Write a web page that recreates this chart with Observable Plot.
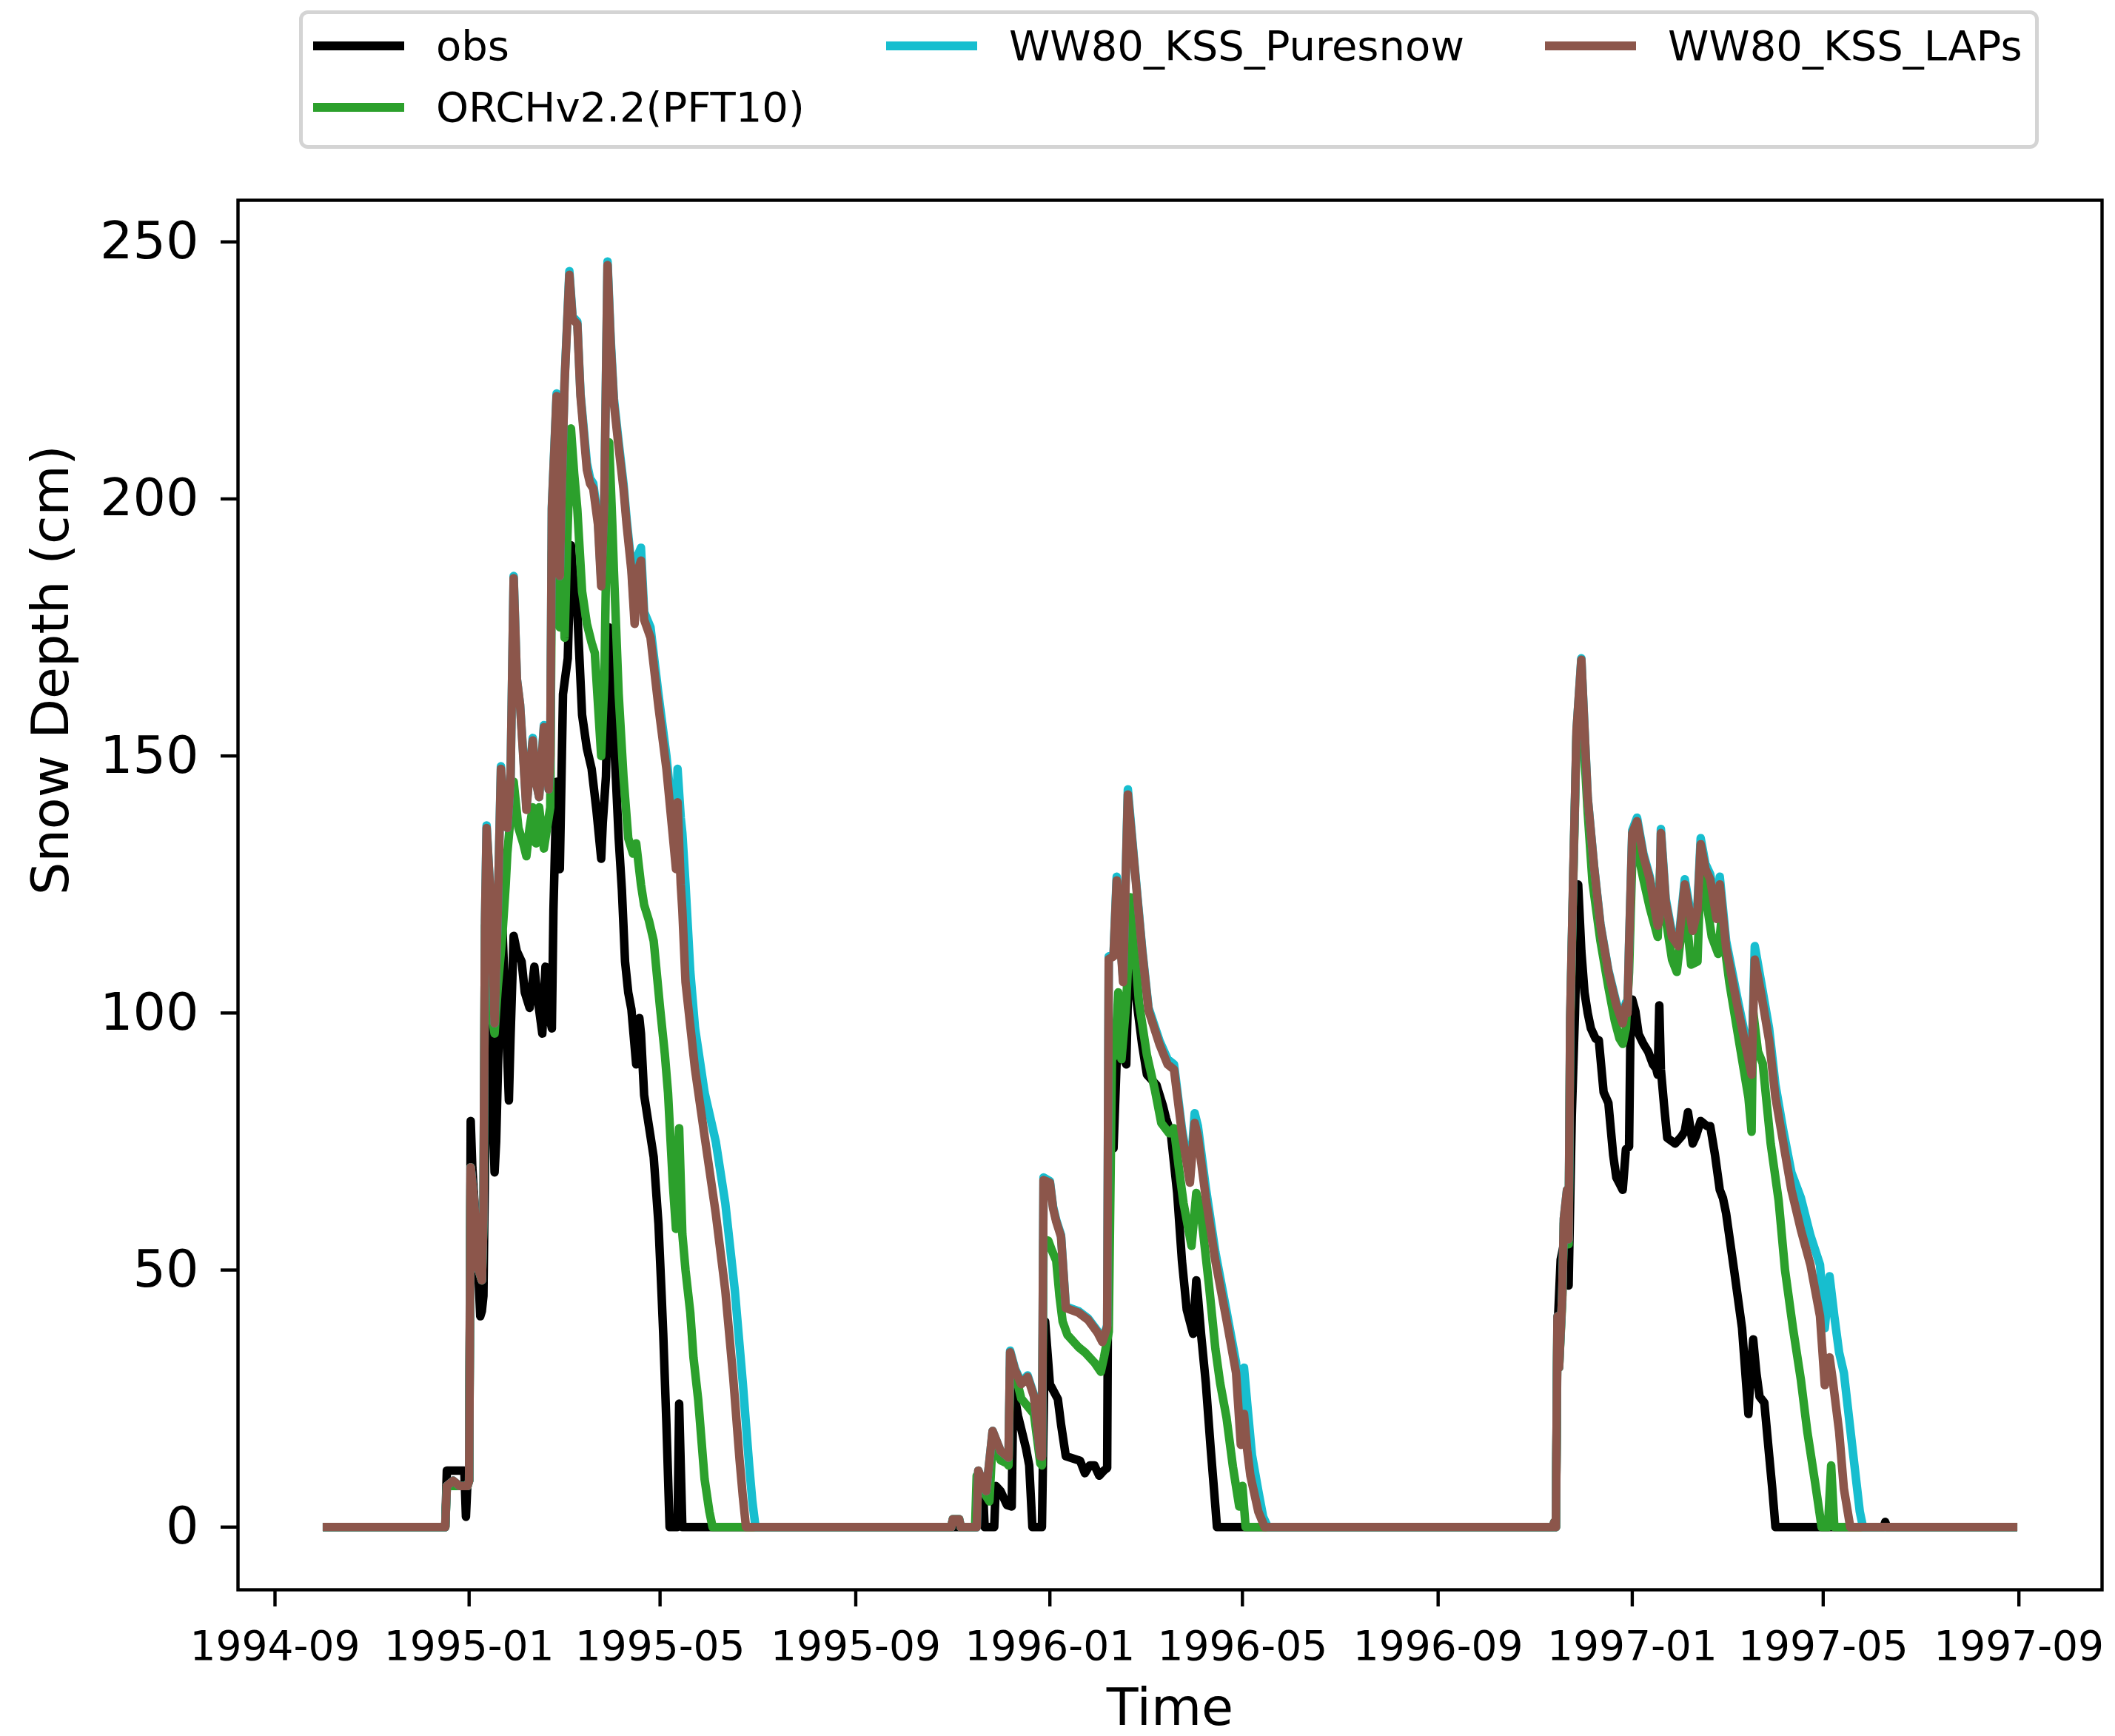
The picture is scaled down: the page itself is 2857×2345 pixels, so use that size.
<!DOCTYPE html>
<html>
<head>
<meta charset="utf-8">
<script src="https://cdn.jsdelivr.net/npm/d3@7"></script>
<script src="https://cdn.jsdelivr.net/npm/@observablehq/plot@0.6"></script>
<style>
  html, body { margin: 0; padding: 0; background: #fff; }
  body { width: 2857px; height: 2345px; overflow: hidden; font-family: "DejaVu Sans", sans-serif; }
  #legend { position: relative; width: 2857px; height: 210px; }
  #legend .box { position: absolute; left: 404px; top: 14px; width: 2350px; height: 187px;
                 box-sizing: border-box; border: 5px solid #d4d4d4; border-radius: 12px; background: #fff; }
  #legend .item { position: absolute; display: flex; align-items: center; height: 64px;
                  font-size: 56px; line-height: 64px; color: #000; white-space: nowrap; }
  #legend .swatch { width: 123px; height: 12px; margin-right: 43px; flex: none; }
  #chart svg { display: block; }
</style>
</head>
<body>
<div id="legend"></div>
<div id="chart"></div>
<script>
// Daily snow depth (cm) at the site, 1994-10 to 1997-08.
// Each entry is [days since 1994-09-01, snow depth in cm].
const recordStart = [1994, 8, 1];

const seriesNames = ["obs", "ORCHv2.2(PFT10)", "WW80_KSS_Puresnow", "WW80_KSS_LAPs"];
const seriesColors = ["#000000", "#2ca02c", "#17becf", "#8c564b"];

const obs = [
  [30,0],[107,0],[108,11],[119,11],[120,2],[121,9],[122,9],[123,79],[124,70],[127,55],[129,41],[130,42],[131,45],
  [133,98],[135,103],[136,90],[138,69],[139,75],[141,100],[143,116],[145,100],[147,83],[148,95],[150,115],[152,112],
  [155,110],[157,104],[160,101],[163,109],[165,103],[168,96],[170,109],[172,100],[174,97],[175,120],[177,145],[179,128],
  [181,162],[184,169],[186,191],[188,182],[190,178],[193,158],[196,151.5],[199,147.5],[202,139.5],[205,130],[206,137],
  [208,146],[210,175],[211,170],[213,154],[216,134],[218,124],[220,110],[222,104],[224,100.7],[227,90],[229,99],[230,96],
  [232,84],[235,78],[238,72],[241,59],[243,45],[244,37.6],[246,20],[248,0],[253,0],[254,24],[256,0],
  [441,0],[442,7],[445,7],[446,0],[452,0],[453,8],[456,7],[460,4.3],[463,4],[464,27],[467,21.6],[472,15.3],[474,12],
  [476,0],[482,0],[484,40],[487,27.8],[492,24.9],[494,20],[497,13.8],[506,12.9],[509,10.5],[512,12],[515,12],[518,10],
  [521,11],[523,11.5],[524,76.6],[527,73.7],[529,91],[532,92],[535,90],[537,115.7],[540,106],[545,93.8],
  [548,88],[554,86],[558,82],[560,79.5],[563,76.6],[567,65],[570,51.8],[573,42.3],[577,37.6],[579,48],[580,45],
  [582,37.6],[585,28],[588,15.5],[591,4],[592,0],
  [805,0],[806,38],[808,52],[810,55],[811,62],[813,47],[815,80],[817,100],[819,125],[821,112],[823,104],[825,100],
  [827,97],[830,95],[832,94.7],[835,84.6],[838,82.5],[841,72.4],[843,68],[845,66.8],[847,65.6],[849,73.5],[851,74],
  [852,100],[853,102.6],[855,100.3],[857,95.9],[860,94],[863,92.5],[866,90],[868,89.2],[869,88],[870,101.5],[871,89],
  [873,82],[875,75.7],[880,74.6],[884,76],[886,77],[888,80.7],[891,74.6],[893,76],[896,79],[900,78],[902,78],
  [905,72.4],[908,65.6],[910,64],[912,61],[917,50],[922,38.7],[926,22],[927,28],[929,36.5],[931,30],[933,25.4],
  [936,24.2],[939,14.1],[941,7.5],[943,0],[1011,0],[1012,1],[1013,0],[1095,0]
];

const orch = [
  [30,0],[107,0],[108,8],[121,8],[122,9],[123,70],[125,62],[128,50],[130,48],[131,60],[132,117],[134,112],[136,100],
  [138,96],[140,105],[143,115.6],[145,125],[146,131],[148,138],[150,145],[153,136],[156,133],[158,130.5],[160,136],
  [162,140],[164,133],[166,140],[169,132],[172,138],[173,140],[174,189.6],[176,198],[177,185],[179,175],[181,190],
  [182,173],[184,195],[186,213.7],[188,205],[190,198],[193,182],[196,175.7],[199,172],[201,170],[203,160],[205,150],
  [207,165],[209,205],[210,211],[212,195],[213,186],[216,162],[219,146],[222,134],[225,131],[227,133],[230,125],
  [232,121],[235,118],[238,114],[242,101],[245,92],[247,84.5],[250,67],[252,58],[254,77.6],[256,57],[258,50],
  [261,41.7],[263,33],[266,24.7],[270,9.3],[273,3],[275,0],
  [425,0],[426,1.5],[430,1.5],[431,0],[440,0],[441,10],[445,7],[449,5],[451,17],[456,13],[460,12.4],[461,12],[462,31],
  [465,30],[469,25],[473,23.5],[477,22],[481,12.4],[482,12],[483,56],[486,55.7],[488,54],[491,51.8],[493,45],[495,40],
  [498,37.4],[505,35],[509,34],[515,32],[519,30.2],[521,33],[524,38],[526,91],[528,91.9],[530,104],[532,91],
  [535,102],[538,122.5],[541,110],[543,102],[548,91.8],[553,85],[557,78.6],[562,76.6],[565,77.6],[568,70],[571,63],
  [574,58],[576,54.7],[579,65],[582,61],[587,47],[591,34.7],[594,28],[598,21.3],[602,11.8],[606,4],[608,8],[610,0],
  [803,0],[804,1],[805,0],[806,40],[807,31],[809,44],[810,59],[812,64],[813,55],[814,97],[816,127],[818,154],
  [821,166],[823,150],[825,139],[828,125.5],[833,114],[838,105],[842,98.5],[845,95],[847,94],[849,97],[851,108],
  [853,130],[854,134],[856,132],[860,126],[864,120.5],[869,114.8],[871,131.7],[873,120.5],[878,110.4],[881,108],
  [886,121.6],[890,109.4],[894,110],[896,128.4],[898,125],[903,114.8],[907,111.5],[909,118],[914,106],[920,94.7],
  [926,83.6],[928,76.9],[929,100.3],[932,92.5],[935,90.2],[940,74.6],[945,63.5],[949,50],[954,38.7],[959,28.6],
  [963,18.6],[968,8.5],[972,0],[976,0],[978,12],[980,0],[1095,0]
];

const puresnow = [
  [30,0],[107,0],[108,8],[112,9],[116,8],[121,8],[122,9],[123,70],[125,64],[128,50],[130,48],[131,60],[132,118],
  [133,136.5],[135,125],[137,110],[138,98],[140,120],[142,148],[144,140],[146,136],[148,145],[150,185],[152,165],
  [154,160],[156,150.5],[158,140],[160,147],[162,153.5],[164,145],[166,142],[169,156],[172,143.5],[173,150],
  [174,198.5],[177,220.5],[179,185],[180,200],[182,223],[185,244.3],[187,235.5],[190,234.5],[192,220.5],[196,207],
  [198,204],[200,203],[203,196],[205,184],[207,201],[209,246.2],[211,231],[213,219.5],[216,211],[219,203],[221,196],
  [224,187],[226,177],[228,189],[230,190.5],[232,178],[236,175],[241,162],[246,150],[250,137.5],[252,131],
  [253,147.5],[255,138],[256,135],[258,125],[261,108],[264,97],[270,84.5],[277,75],[283,63],[289,46],[294,28],
  [298,12],[300,5],[302,0],
  [425,0],[426,1.5],[430,1.5],[431,0],[441,0],[442,11],[447,7],[451,18.7],[456,14.8],[460,13.8],[461,13.5],
  [462,34.3],[465,30.9],[469,28.1],[473,29.5],[477,25.7],[481,14],[482,13.8],[483,68],[487,67.3],[489,62.3],
  [491,59.7],[494,56.8],[497,42.9],[505,42],[511,40.6],[517,38.1],[520,36.3],[523,39.2],[524,111],[527,111.5],
  [529,126.5],[531,115.5],[533,106.5],[536,143.5],[540,129.5],[545,112.5],[549,101],[556,94.5],[561,91],[565,90],
  [570,77.5],[575,68],[578,80.5],[580,78],[585,66],[591,53.5],[598,42],[604,32],[607,20],[609,31],[611,24],[614,14],
  [618,7],[621,2],[624,0],
  [803,0],[804,1],[805,0],[806,41],[807,31],[809,45],[810,60],[812,65.6],[813,56],[814,99],[816,128],[818,155],
  [821,169],[823,155.3],[825,142],[829,128.6],[833,117.3],[838,108.3],[843,102],[847,98.5],[849,102],[850,100.5],
  [851,113.5],[853,135.5],[856,138],[860,131],[864,126.5],[869,117.5],[870,118.5],[871,135.8],[874,122.3],
  [878,115.5],[882,113.8],[886,126],[891,117],[894,121],[896,134],[899,129],[902,127],[906,119.5],[908,126.5],
  [912,114],[919,103],[925,94],[928,90],[930,113],[934,106],[939,97],[943,86],[948,77],[953,69],[959,64],
  [965,56.7],[971,51],[974,38.7],[977,48.8],[980,41],[983,34],[986,30],[991,16.4],[996,3],[998,0],[1095,0]
];

const laps = [
  [30,0],[107,0],[108,8],[112,9],[116,8],[121,8],[122,9],[123,70],[125,64],[128,50],[130,48],[131,60],[132,118],
  [133,136],[135,125],[137,110],[138,98],[140,120],[142,147.5],[144,140],[146,136],[148,145],[150,184.6],[152,165],
  [154,160],[156,150],[158,139.5],[160,147],[162,153],[164,145],[166,142],[169,155.6],[172,143.5],[173,150],
  [174,198],[177,220],[179,185],[180,200],[182,222.6],[185,243.6],[187,235],[190,234],[192,220],[196,205.7],
  [198,203],[200,202],[203,195],[205,183],[207,200],[209,245.5],[211,230],[213,218.6],[216,210],[219,202],[221,195],
  [224,186],[226,175.7],[228,186],[230,188],[232,176.5],[236,173],[241,159.6],[246,147.5],[250,134.6],[252,128],
  [253,141],[255,125],[256,120],[258,106],[264,89],[270,76],[277,61],[283,46],[288,29],[292,13],[294,6],[296,0],
  [425,0],[426,1.5],[430,1.5],[431,0],[441,0],[442,11],[447,7],[451,18.7],[456,14.8],[460,13.8],[461,13.5],
  [462,34],[465,30.6],[469,27.8],[473,29.2],[477,25.4],[481,13.8],[482,13.7],[483,67.5],[487,67],[489,62],
  [491,59.4],[494,56.5],[497,42.6],[505,41.7],[511,40.3],[517,37.8],[520,36],[523,38.9],[524,110.5],[527,111],
  [529,125.8],[531,115],[533,106],[536,142.5],[540,129],[545,112],[549,100.5],[556,93.8],[561,90],[565,89],
  [570,76.6],[575,67],[578,78.6],[580,76],[585,64],[591,51.8],[598,40.3],[604,30],[607,16],[609,22],[611,15],
  [613,10],[618,3],[622,0],
  [803,0],[804,1],[805,0],[806,41],[807,31],[809,45],[810,60],[812,65.6],[813,56],[814,99],[816,128],[818,155],
  [821,168.7],[823,155],[825,141.8],[829,128.4],[833,117],[838,108],[843,101.5],[847,98],[849,101.5],[850,100],
  [851,113],[853,135],[856,137.3],[860,130.5],[864,126],[869,117],[870,118],[871,135],[874,121.6],[878,114.8],
  [882,113],[886,125],[891,116],[894,120],[896,132.8],[899,128],[902,126],[906,118.3],[908,125],[912,112.7],
  [919,101.5],[925,92.5],[928,88],[930,110.4],[934,103.8],[939,94.7],[943,83.6],[948,74.6],[953,65.6],[959,57.8],
  [965,51],[971,41],[974,27.6],[977,33],[979,28.6],[983,18.6],[986,7.5],[990,0],[1095,0]
];

const xTickLabels = ["1994-09", "1995-01", "1995-05", "1995-09", "1996-01", "1996-05",
                     "1996-09", "1997-01", "1997-05", "1997-09"];
const yTicks = [0, 50, 100, 150, 200, 250];

// ---- helpers -------------------------------------------------------------
const dayToDate = d => new Date(Date.UTC(recordStart[0], recordStart[1], recordStart[2] + d));
const toRows = arr => arr.map(([d, v]) => ({date: dayToDate(d), depth: v}));
const allSeries = [obs, orch, puresnow, laps].map(toRows);
const xTicks = xTickLabels.map(s => new Date(s + "-01T00:00:00Z"));

// x extent padded by 5% on each side
const allDates = allSeries.flat().map(r => +r.date);
const [t0, t1] = d3.extent(allDates);
const pad = (t1 - t0) * 0.05;
const xDomain = [new Date(t0 - pad), new Date(t1 + pad)];

// ---- legend (three columns, filled column by column) ----------------------
const legendPos = [{left: 423, top: 30}, {left: 423, top: 113}, {left: 1197, top: 30}, {left: 2087, top: 30}];
const legend = d3.select("#legend");
legend.append("div").attr("class", "box");
seriesNames.forEach((name, i) => {
  const item = legend.append("div").attr("class", "item")
    .style("left", legendPos[i].left + "px").style("top", legendPos[i].top + "px");
  item.append("span").attr("class", "swatch").style("background", seriesColors[i]);
  item.append("span").text(name);
});

// ---- chart ---------------------------------------------------------------
const lineStyle = {x: "date", y: "depth", strokeWidth: 11.5, strokeLinejoin: "round", strokeLinecap: "butt"};

const chart = Plot.plot({
  width: 2857,
  height: 2135,
  marginLeft: 321,
  marginRight: 18,
  marginTop: 60,
  marginBottom: 198,
  style: {fontFamily: "DejaVu Sans", background: "white", color: "black", overflow: "visible"},
  x: {type: "utc", domain: xDomain},
  y: {domain: [-12.2, 258.1]},
  marks: [
    ...allSeries.map((rows, i) => Plot.line(rows, {...lineStyle, stroke: seriesColors[i]})),
    Plot.frame({stroke: "black", strokeWidth: 4.4}),
    Plot.axisX({ticks: xTicks, tickFormat: d3.utcFormat("%Y-%m"), tickSize: 23, tickPadding: 32,
                fontSize: 55, strokeWidth: 4.4, label: null}),
    Plot.axisY({ticks: yTicks, tickFormat: d => String(d), tickSize: 23, tickPadding: 30,
                fontSize: 70, strokeWidth: 4.4, label: null}),
    Plot.text(["Time"], {text: d => d, frameAnchor: "bottom", dy: 160, fontSize: 70, lineAnchor: "middle"}),
    Plot.text(["Snow Depth (cm)"], {text: d => d, frameAnchor: "left", dx: -252, rotate: -90,
                                    fontSize: 70, lineAnchor: "middle"})
  ]
});

const svg = d3.select(chart);
svg.selectAll('g[aria-label="x-axis tick label"]').attr("font-size", 55);
svg.selectAll('g[aria-label="y-axis tick label"]').attr("font-size", 70);

document.getElementById("chart").appendChild(chart);
</script>
</body>
</html>
